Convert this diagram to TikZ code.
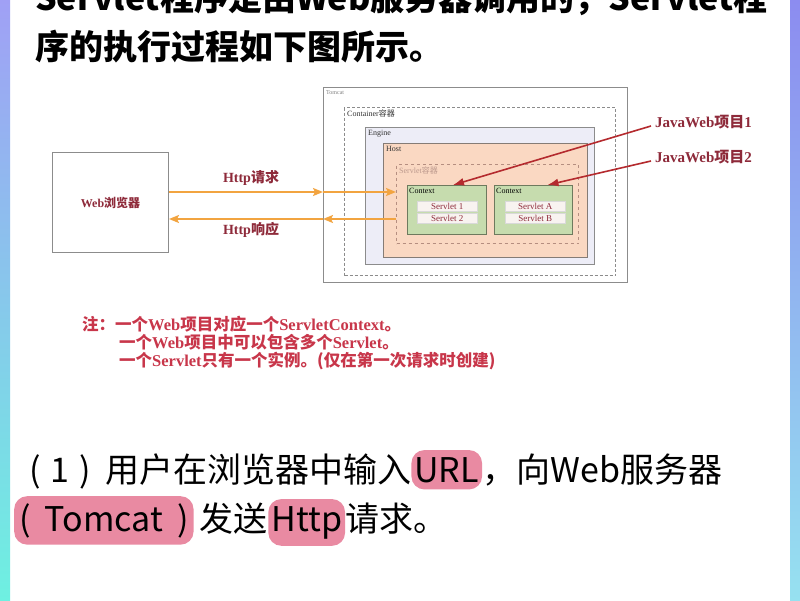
\documentclass[tikz,border=0pt]{standalone}
\usepackage{fontspec}
\setmainfont{Liberation Serif}
\newfontfamily\cjk{Noto Sans CJK SC}
\usetikzlibrary{arrows.meta,calc,positioning}
\definecolor{framegray}{HTML}{8C8C8C}
\definecolor{engfill}{HTML}{EDEDF7}
\definecolor{hostfill}{HTML}{FAD8C2}
\definecolor{hostdraw}{HTML}{857C76}
\definecolor{scdraw}{HTML}{B58E80}
\definecolor{ctxfill}{HTML}{C6DCAE}
\definecolor{ctxdraw}{HTML}{6E7A5E}
\definecolor{svfill}{HTML}{F8F3F0}
\definecolor{maroon}{HTML}{8E2A3A}
\definecolor{redarrow}{HTML}{B42A2E}
\definecolor{orangearrow}{HTML}{F2A440}
\definecolor{notered}{HTML}{C8364A}
\definecolor{hl}{HTML}{E98AA2}
\newcommand\zh[1]{{\cjk #1}}
\tikzset{
  bx/.style={draw=framegray, line width=1pt, anchor=north west, inner sep=0pt},
  tiny/.style={anchor=north west, inner sep=0pt, font=\fontsize{8}{8}\selectfont, text=black!80},
  svbox/.style={bx, draw=white!70!gray, line width=0.6pt, fill=svfill, minimum width=60, minimum height=10,
     font=\fontsize{9}{9}\selectfont, text=maroon},
  ctxbox/.style={bx, draw=ctxdraw, line width=1pt, fill=ctxfill, minimum height=49},
  oarr/.style={draw=orangearrow, line width=1.8pt, -{Stealth[length=10pt,width=8pt,inset=2pt]}},
  rarr/.style={draw=redarrow, line width=1.6pt, -{Latex[length=11pt,width=8pt]}},
  lbl/.style={inner sep=0pt, text=maroon, font=\fontsize{14}{14}\selectfont\bfseries},
  big/.style={inner sep=0pt, anchor=base west, font=\cjk\fontsize{34}{34}\selectfont\bfseries},
  bot/.style={inner sep=0pt, anchor=base west, font=\cjk\fontsize{34}{34}\selectfont},
  hlt/.style={fill=hl, rounded corners=13pt, inner xsep=3pt, inner ysep=7pt, anchor=base west, font=\cjk\fontsize{34}{34}\selectfont},
  note/.style={inner sep=0pt, anchor=base west, text=notered, font=\fontsize{16.5}{16.5}\selectfont\bfseries}
}
\begin{document}
\begin{tikzpicture}[x=1pt,y=-1pt]
\useasboundingbox (0,0) rectangle (800,600);
\clip (0,0) rectangle (800,600);
\fill[white] (0,0) rectangle (800,600);
% side strips
\shade[top color={rgb,255:red,160;green,160;blue,245}, middle color={rgb,255:red,150;green,210;blue,245}, bottom color={rgb,255:red,110;green,240;blue,225}] (0,0) rectangle (10,600);
\shade[top color={rgb,255:red,140;green,140;blue,240}, middle color={rgb,255:red,215;green,215;blue,248}, bottom color={rgb,255:red,150;green,225;blue,240}] (790,0) rectangle (800,600);

% top text
\node[big] (t1) at (35,10) {Servlet程序是由Web服务器调用的，Servlet程};
\node[big] (t2) at (35,59) {序的执行过程如下图所示。};

% browser
\node[bx, minimum width=116, minimum height=100] (browser) at (52,152) {};
\node[lbl, font=\fontsize{12}{12}\selectfont\bfseries] (browserlbl) at (browser.center) {Web\zh{浏览器}};

% tomcat nesting
\node[bx, minimum width=304, minimum height=195] (tomcat) at (323,87) {};
\node[tiny, font=\fontsize{6}{6}\selectfont, text=gray] (tomcatlbl) at ($(tomcat.north west)+(3,3)$) {Tomcat};
\node[bx, densely dashed, minimum width=271, minimum height=168] (container) at (344,107) {};
\node[tiny] (containerlbl) at ($(container.north west)+(3,3)$) {Container\zh{容器}};
\node[bx, fill=engfill, minimum width=229, minimum height=137] (engine) at (365,127) {};
\node[tiny] (enginelbl) at ($(engine.north west)+(3,3)$) {Engine};
\node[bx, draw=hostdraw, fill=hostfill, minimum width=204, minimum height=114] (host) at (383,143) {};
\node[tiny] (hostlbl) at ($(host.north west)+(3,3)$) {Host};
\node[bx, draw=scdraw, dashed, minimum width=182, minimum height=79] (sc) at (396,164) {};
\node[tiny, text=scdraw!90!white] (sclbl) at ($(sc.north west)+(3,3)$) {Servlet\zh{容器}};
\node[ctxbox, minimum width=79] (ctx1) at (407,185) {};
\node[tiny, text=black] (ctx1lbl) at ($(ctx1.north west)+(2,3)$) {Context};
\node[ctxbox, minimum width=78] (ctx2) at (494,185) {};
\node[tiny, text=black] (ctx2lbl) at ($(ctx2.north west)+(2,3)$) {Context};
\node[svbox] (s1) at (417,201) {Servlet 1};
\node[svbox] (s2) at (417,213) {Servlet 2};
\node[svbox] (sa) at (505,201) {Servlet A};
\node[svbox] (sb) at (505,213) {Servlet B};

% http arrows
\coordinate (rq) at (0,192);
\coordinate (rs) at (0,219);
\draw[oarr] (browser.east |- rq) -- (tomcat.west |- rq);
\draw[oarr] (tomcat.west |- rq) -- (sc.west |- rq);
\draw[oarr] (sc.west |- rs) -- (tomcat.west |- rs);
\draw[oarr] (tomcat.west |- rs) -- (browser.east |- rs);
\node[lbl] (reqlbl) at (251,178) {Http\zh{请求}};
\node[lbl] (reslbl) at (251,230) {Http\zh{响应}};

% javaweb labels
\node[lbl, anchor=west, font=\fontsize{15}{15}\selectfont\bfseries] (jw1) at (655,122) {JavaWeb\zh{项目}1};
\node[lbl, anchor=west, font=\fontsize{15}{15}\selectfont\bfseries] (jw2) at (655,157) {JavaWeb\zh{项目}2};
\draw[rarr] ($(jw1.west)+(-4,4)$) -- ($(ctx1.north)+(6,0)$);
\draw[rarr] ($(jw2.west)+(-4,4)$) -- ($(ctx2.north)+(14,0)$);

% note
\node[note] (n1) at (82,330) {\zh{注：一个}Web\zh{项目对应一个}ServletContext\zh{。}};
\node[note] (n2) at (119,348) {\zh{一个}Web\zh{项目中可以包含多个}Servlet\zh{。}};
\node[note] (n3) at (119,366) {\zh{一个}Servlet\zh{只有一个实例。(仅在第一次请求时创建)}};

% bottom text
\node[bot] (b1a) at (25,482) {\hspace{4pt}(\hspace{10pt}1\hspace{10pt})\hspace{14pt}用户在浏览器中输入};
\node[hlt] (b1url) at (b1a.base east) {URL};
\node[bot] (b1b) at (b1url.base east) {，向Web服务器};
\node[hlt, inner xsep=5pt] (b2tom) at (14,531) {(\hspace{14pt}Tomcat\hspace{14pt})};
\node[bot] (b2a) at (b2tom.base east) {\hspace{6pt}发送};
\node[hlt] (b2http) at (b2a.base east) {Http};
\node[bot] (b2b) at (b2http.base east) {请求。};
\end{tikzpicture}
\end{document}
